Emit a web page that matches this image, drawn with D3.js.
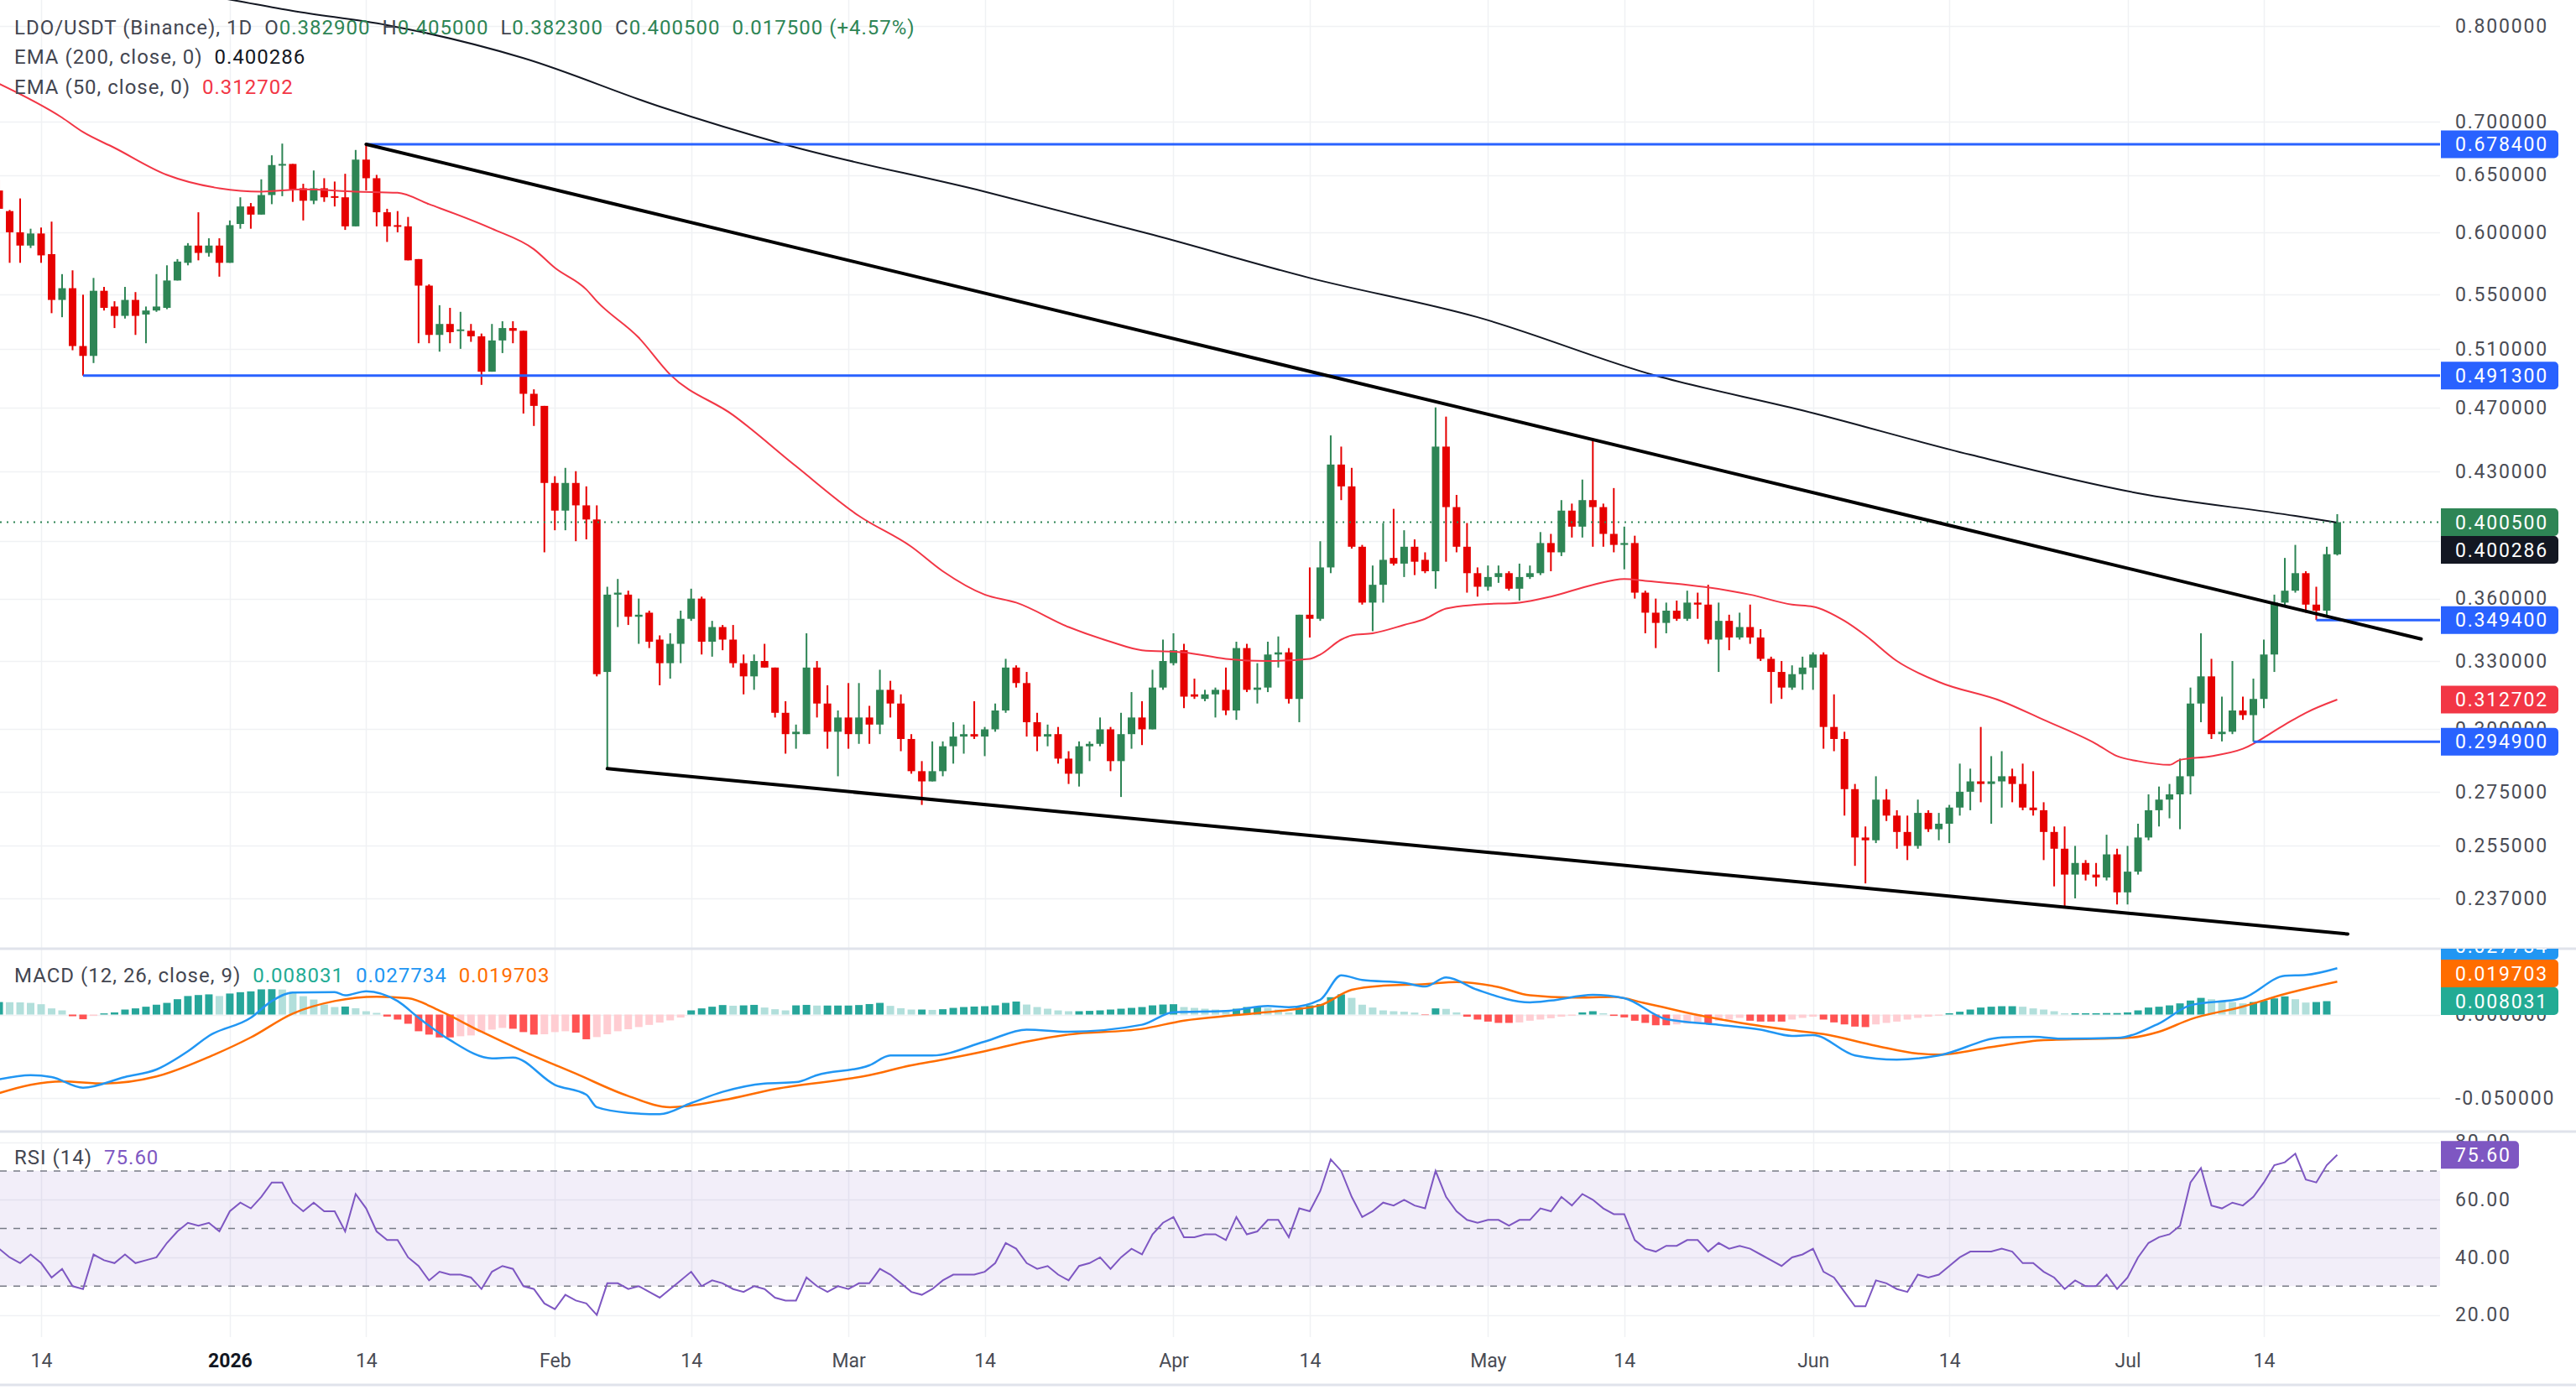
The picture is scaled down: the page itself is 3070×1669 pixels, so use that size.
<!DOCTYPE html>
<meta charset="utf-8">
<head>
  <title>LDO/USDT 1D</title>
</head>

<style>
body {
  margin: 0;
  background: #fff;
}
svg {
  display: block;
  font-family: Roboto, "Noto Sans", sans-serif;
}
</style>

<body>
  <svg width="3070" height="1669"></svg>

  <script src="https://cdnjs.cloudflare.com/ajax/libs/d3/7.8.5/d3.min.js"></script>

  <script>
// daily candles, first one on firstDay
var firstDay = "2025-12-10";
var opens = [0.636,0.618,0.600,0.589,0.599,0.582,0.546,0.555,0.512,0.505,0.553,0.541,0.534,0.546,0.535,0.538,0.540,0.561,0.575,0.589,0.583,0.589,
  0.575,0.607,0.622,0.615,0.632,0.659,0.660,0.638,0.627,0.638,0.631,0.630,0.605,0.664,0.647,0.617,0.606,0.605,0.578,0.557,0.520,0.528,0.523,0.523,0.519,0.494,0.516,0.525,0.523,0.479,0.471,
  0.423,0.407,0.423,0.410,0.402,0.325,0.362,0.362,0.351,0.353,0.340,0.329,0.338,0.350,0.360,0.339,0.346,0.340,0.329,0.323,0.330,0.327,0.307,0.298,0.298,0.327,0.311,0.299,
  0.305,0.298,0.305,0.302,0.317,0.311,0.296,0.283,0.279,0.283,0.293,0.297,0.298,0.297,0.300,0.308,0.327,0.320,0.303,0.297,0.298,0.288,0.282,0.293,0.294,0.300,0.287,0.298,0.305,0.300,0.318,
  0.329,0.335,0.315,0.313,0.315,0.317,0.308,0.336,0.317,0.318,0.333,0.334,0.313,0.352,0.350,0.376,0.434,0.421,0.387,0.358,0.367,0.381,0.378,0.387,0.380,0.374,0.445,0.409,0.387,0.373,
  0.366,0.371,0.373,0.365,0.371,0.373,0.389,0.384,0.407,0.398,0.413,0.409,0.394,0.388,0.389,0.363,0.353,0.348,0.354,0.350,0.358,0.357,0.340,0.349,0.341,0.346,0.341,0.331,0.325,0.318,0.324,
  0.327,0.333,0.301,0.296,0.276,0.258,0.257,0.272,0.266,0.260,0.255,0.267,0.261,0.263,0.269,0.275,0.279,0.278,0.279,0.281,0.278,0.269,0.268,0.260,0.254,0.245,0.249,0.245,0.244,0.252,
  0.239,0.246,0.258,0.268,0.272,0.274,0.281,0.311,0.323,0.298,0.299,0.308,0.306,0.313,0.333,0.358,0.364,0.373,0.357,0.354,0.3829];
var highs = [0.645,0.619,0.629,0.603,0.604,0.609,0.566,0.569,0.550,0.563,0.556,0.545,0.556,0.552,0.541,0.566,0.573,0.578,0.591,0.617,0.595,0.595,
  0.610,0.630,0.625,0.646,0.668,0.679,0.660,0.642,0.654,0.647,0.644,0.651,0.673,0.6784,0.650,0.620,0.618,0.613,0.578,0.558,0.542,0.540,0.537,0.528,0.521,0.528,0.530,0.530,0.523,0.482,0.471,
  0.427,0.432,0.430,0.421,0.410,0.366,0.370,0.364,0.360,0.354,0.342,0.343,0.354,0.365,0.361,0.349,0.347,0.347,0.333,0.333,0.338,0.327,0.312,0.302,0.343,0.330,0.319,0.308,
  0.320,0.320,0.310,0.326,0.321,0.315,0.298,0.287,0.295,0.295,0.303,0.302,0.312,0.301,0.311,0.331,0.328,0.325,0.307,0.302,0.301,0.291,0.295,0.295,0.305,0.301,0.307,0.316,0.312,0.326,0.340,
  0.343,0.338,0.322,0.317,0.318,0.327,0.339,0.338,0.329,0.339,0.3415,0.336,0.352,0.376,0.390,0.452,0.445,0.432,0.388,0.377,0.400,0.408,0.396,0.391,0.384,0.470,0.464,0.416,0.400,0.376,
  0.377,0.377,0.374,0.378,0.377,0.395,0.394,0.413,0.411,0.425,0.450,0.411,0.420,0.398,0.393,0.364,0.360,0.358,0.359,0.364,0.363,0.367,0.358,0.352,0.353,0.357,0.345,0.332,0.330,0.328,0.332,
  0.334,0.334,0.315,0.299,0.278,0.262,0.281,0.276,0.268,0.266,0.272,0.268,0.267,0.270,0.286,0.284,0.301,0.289,0.291,0.284,0.286,0.283,0.271,0.262,0.262,0.255,0.250,0.249,0.259,0.254,
  0.255,0.263,0.274,0.277,0.278,0.288,0.318,0.343,0.331,0.314,0.330,0.314,0.322,0.340,0.362,0.381,0.388,0.374,0.366,0.387,0.405];
var lows = [0.615,0.575,0.575,0.587,0.575,0.536,0.533,0.509,0.4913,0.500,0.538,0.525,0.532,0.520,0.514,0.537,0.539,0.561,0.573,0.577,0.580,0.564,
  0.575,0.603,0.603,0.615,0.624,0.631,0.626,0.610,0.624,0.626,0.622,0.602,0.605,0.636,0.605,0.592,0.600,0.577,0.514,0.514,0.508,0.514,0.510,0.515,0.485,0.494,0.507,0.514,0.466,0.458,0.384,
  0.396,0.396,0.390,0.391,0.323,0.284,0.346,0.347,0.338,0.336,0.319,0.322,0.329,0.349,0.333,0.332,0.335,0.327,0.315,0.317,0.327,0.305,0.290,0.292,0.298,0.305,0.292,0.281,
  0.292,0.294,0.294,0.298,0.305,0.291,0.282,0.270,0.279,0.281,0.286,0.290,0.296,0.289,0.299,0.307,0.318,0.297,0.291,0.293,0.286,0.278,0.277,0.287,0.293,0.283,0.273,0.292,0.2935,0.300,0.317,
  0.328,0.309,0.313,0.312,0.305,0.306,0.304,0.316,0.311,0.316,0.327,0.311,0.303,0.341,0.349,0.373,0.413,0.386,0.357,0.344,0.358,0.377,0.371,0.372,0.373,0.365,0.379,0.384,0.363,0.361,
  0.364,0.368,0.364,0.359,0.370,0.372,0.374,0.382,0.392,0.392,0.387,0.387,0.384,0.375,0.360,0.343,0.336,0.343,0.349,0.349,0.350,0.338,0.325,0.335,0.340,0.338,0.330,0.311,0.313,0.317,0.317,
  0.317,0.292,0.291,0.266,0.248,0.242,0.256,0.264,0.254,0.250,0.254,0.260,0.257,0.256,0.266,0.268,0.271,0.263,0.269,0.271,0.268,0.266,0.250,0.241,0.234,0.237,0.243,0.241,0.243,0.235,
  0.235,0.245,0.257,0.262,0.265,0.261,0.274,0.303,0.296,0.295,0.298,0.304,0.2949,0.309,0.325,0.356,0.363,0.353,0.3494,0.351,0.3823];
var closes = [0.620,0.600,0.589,0.599,0.581,0.546,0.555,0.512,0.505,0.553,0.540,0.534,0.546,0.534,0.538,0.541,0.561,0.576,0.589,0.583,0.589,0.575,
  0.606,0.622,0.615,0.632,0.659,0.660,0.637,0.627,0.638,0.630,0.630,0.605,0.664,0.647,0.617,0.605,0.605,0.577,0.557,0.520,0.528,0.522,0.524,0.519,0.494,0.516,0.525,0.523,0.479,0.471,0.423,
  0.407,0.423,0.410,0.402,0.324,0.362,0.363,0.351,0.352,0.339,0.329,0.338,0.350,0.360,0.339,0.346,0.340,0.329,0.323,0.330,0.327,0.307,0.298,0.299,0.327,0.311,0.299,0.305,
  0.298,0.305,0.302,0.317,0.311,0.296,0.283,0.279,0.283,0.293,0.297,0.298,0.297,0.300,0.308,0.327,0.320,0.303,0.297,0.298,0.288,0.282,0.293,0.294,0.300,0.287,0.298,0.305,0.300,0.318,0.330,
  0.335,0.314,0.314,0.315,0.317,0.308,0.336,0.317,0.318,0.333,0.334,0.313,0.352,0.350,0.376,0.434,0.421,0.387,0.358,0.367,0.380,0.378,0.387,0.379,0.374,0.445,0.409,0.387,0.373,0.366,
  0.371,0.373,0.365,0.371,0.373,0.389,0.384,0.407,0.398,0.413,0.409,0.394,0.388,0.389,0.363,0.353,0.348,0.354,0.350,0.358,0.357,0.340,0.349,0.341,0.346,0.341,0.331,0.325,0.318,0.324,0.327,
  0.333,0.301,0.296,0.276,0.258,0.257,0.272,0.266,0.260,0.255,0.267,0.261,0.263,0.269,0.275,0.279,0.278,0.279,0.281,0.278,0.269,0.268,0.260,0.254,0.245,0.249,0.245,0.244,0.252,0.239,
  0.246,0.258,0.268,0.272,0.274,0.281,0.311,0.323,0.298,0.299,0.308,0.306,0.313,0.333,0.358,0.364,0.373,0.357,0.354,0.383,0.4005];

// moving averages
var ema200 = [["2025-12-10",0.875],["2026-01-01",0.830],["2026-01-07",0.817],["2026-01-16",0.801],["2026-01-29",0.765],["2026-02-11",0.715],
  ["2026-02-23",0.678],["2026-03-14",0.635],["2026-03-30",0.598],["2026-04-14",0.563],["2026-04-30",0.533],["2026-05-17",0.4913],["2026-05-31",0.468],
  ["2026-06-16",0.440],["2026-07-02",0.417],["2026-07-17",0.404],["2026-07-21",0.400286]];
var ema50 = [["2025-12-10",0.738],["2025-12-16",0.704],["2025-12-18",0.690],["2025-12-21",0.675],["2025-12-26",0.650],["2025-12-31",0.638],["2026-01-04",0.635],
  ["2026-01-08",0.637],["2026-01-13",0.635],["2026-01-17",0.634],["2026-01-20",0.624],["2026-01-26",0.603],["2026-01-30",0.586],["2026-02-01",0.571],["2026-02-04",0.554],
  ["2026-02-05",0.545],["2026-02-09",0.518],["2026-02-12",0.492],["2026-02-18",0.465],["2026-02-24",0.433],["2026-03-02",0.404],["2026-03-07",0.387],["2026-03-10",0.374],
  ["2026-03-14",0.362],["2026-03-17",0.358],["2026-03-22",0.346],["2026-03-26",0.339],["2026-03-29",0.335],["2026-04-02",0.334],["2026-04-06",0.331],["2026-04-10",0.330],
  ["2026-04-14",0.331],["2026-04-15",0.333],["2026-04-17",0.340],["2026-04-18",0.342],["2026-04-20",0.343],["2026-04-23",0.347],["2026-04-25",0.350],["2026-04-27",0.355],
  ["2026-04-30",0.357],["2026-05-04",0.358],["2026-05-07",0.361],["2026-05-11",0.367],["2026-05-14",0.370],["2026-05-16",0.369],["2026-05-20",0.367],["2026-05-24",0.364],
  ["2026-05-26",0.362],["2026-05-30",0.357],["2026-06-01",0.356],["2026-06-04",0.349],["2026-06-06",0.342],["2026-06-09",0.330],["2026-06-13",0.3205],["2026-06-19",0.312],
  ["2026-06-23",0.304],["2026-06-28",0.294],["2026-06-30",0.289],["2026-07-02",0.287],["2026-07-05",0.2855],["2026-07-06",0.2875],["2026-07-09",0.289],["2026-07-12",0.292],
  ["2026-07-16",0.302],["2026-07-18",0.307],["2026-07-21",0.312702]];

// MACD (12, 26, 9)
var macdLine = [["2025-12-10",-0.0388],["2025-12-13",-0.0363],["2025-12-15",-0.0374],["2025-12-18",-0.0438],["2025-12-22",-0.0374],["2025-12-25",-0.0329],
  ["2025-12-28",-0.0220],["2025-12-30",-0.0128],["2026-01-03",-0.0019],["2026-01-05",0.0081],["2026-01-07",0.0132],["2026-01-11",0.0135],["2026-01-12",0.0115],
  ["2026-01-14",0.0140],["2026-01-17",0.0081],["2026-01-19",-0.0019],["2026-01-22",-0.0153],["2026-01-26",-0.0262],["2026-01-28",-0.0257],["2026-02-01",-0.0421],
  ["2026-02-04",-0.0480],["2026-02-05",-0.0555],["2026-02-08",-0.0589],["2026-02-11",-0.0597],["2026-02-14",-0.0530],["2026-02-17",-0.0463],["2026-02-21",-0.0413],
  ["2026-02-24",-0.0405],["2026-02-26",-0.0363],["2026-03-03",-0.0304],["2026-03-05",-0.0245],["2026-03-09",-0.0245],["2026-03-14",-0.0162],["2026-03-18",-0.0090],
  ["2026-03-22",-0.0103],["2026-03-29",-0.0061],["2026-04-01",0.0014],["2026-04-06",0.0021],["2026-04-10",0.0051],["2026-04-12",0.0044],["2026-04-15",0.0089],
  ["2026-04-17",0.0235],["2026-04-19",0.0207],["2026-04-23",0.0190],["2026-04-25",0.0168],["2026-04-27",0.0222],["2026-04-30",0.0148],["2026-05-05",0.0073],
  ["2026-05-07",0.0084],["2026-05-11",0.0118],["2026-05-14",0.0098],["2026-05-18",-0.0028],["2026-05-23",-0.0061],["2026-05-27",-0.0090],["2026-05-30",-0.0128],
  ["2026-06-01",-0.0123],["2026-06-05",-0.0245],["2026-06-09",-0.0270],["2026-06-13",-0.0245],["2026-06-19",-0.0137],["2026-06-22",-0.0133],["2026-06-25",-0.0145],
  ["2026-06-30",-0.0140],["2026-07-04",-0.0053],["2026-07-07",0.0056],["2026-07-12",0.0098],["2026-07-16",0.0232],["2026-07-18",0.0237],["2026-07-21",0.027734]];
var signalLine = [["2025-12-10",-0.0471],["2025-12-13",-0.0421],["2025-12-16",-0.0401],["2025-12-20",-0.0413],["2025-12-25",-0.0371],["2025-12-30",-0.0254],
  ["2026-01-03",-0.0137],["2026-01-07",0.0006],["2026-01-11",0.0081],["2026-01-15",0.0107],["2026-01-18",0.0098],["2026-01-21",0.0023],["2026-01-25",-0.0103],
  ["2026-01-29",-0.0220],["2026-02-03",-0.0354],["2026-02-08",-0.0488],["2026-02-12",-0.0555],["2026-02-17",-0.0513],["2026-02-22",-0.0446],["2026-03-03",-0.0363],
  ["2026-03-07",-0.0304],["2026-03-10",-0.0270],["2026-03-14",-0.0220],["2026-03-18",-0.0162],["2026-03-22",-0.0120],["2026-03-29",-0.0086],["2026-04-02",-0.0036],
  ["2026-04-07",-0.0003],["2026-04-12",0.0028],["2026-04-15",0.0056],["2026-04-18",0.0148],["2026-04-21",0.0173],["2026-04-25",0.0182],["2026-04-28",0.0195],
  ["2026-05-02",0.0165],["2026-05-05",0.0115],["2026-05-09",0.0102],["2026-05-13",0.0105],["2026-05-16",0.0068],["2026-05-21",-0.0003],["2026-05-25",-0.0049],
  ["2026-05-30",-0.0094],["2026-06-02",-0.0117],["2026-06-07",-0.0187],["2026-06-11",-0.0234],["2026-06-13",-0.0240],["2026-06-18",-0.0195],["2026-06-23",-0.0153],
  ["2026-07-01",-0.0140],["2026-07-04",-0.0103],["2026-07-07",-0.0028],["2026-07-12",0.0048],["2026-07-16",0.0123],["2026-07-21",0.019703]];
var macdHist = [0.0075,0.0074,0.0073,0.0070,0.0062,0.0037,0.0025,-0.0010,-0.0028,-0.0008,
  0.0007,0.0013,0.0030,0.0037,0.0047,0.0059,0.0070,0.0092,0.0111,0.0117,0.0121,0.0111,0.0126,0.0134,0.0139,0.0151,0.0152,0.0150,
  0.0128,0.0110,0.0090,0.0060,0.0045,0.0048,0.0038,0.0020,0.0010,
  -0.0012,-0.0030,-0.0055,-0.0100,-0.0120,-0.0137,-0.0137,-0.0130,-0.0125,-0.0105,-0.0090,-0.0080,-0.0085,-0.0105,-0.0120,-0.0118,
  -0.0105,-0.0100,-0.0108,-0.0148,-0.0135,-0.0118,-0.0100,-0.0088,-0.0075,-0.0062,-0.0048,-0.0035,-0.0018,
  0.0025,0.0037,0.0047,0.0057,0.0053,0.0055,0.0058,0.0042,0.0032,0.0025,
  0.0055,0.0058,0.0054,0.0054,0.0054,0.0054,0.0057,0.0063,0.0070,0.0052,0.0038,0.0030,0.0030,0.0028,0.0032,
  0.0040,0.0045,0.0048,0.0050,0.0055,0.0070,0.0078,0.0060,0.0045,
  0.0035,0.0025,0.0020,0.0020,0.0022,0.0025,0.0030,0.0035,0.0040,0.0045,0.0055,
  0.0060,0.0062,0.0045,0.0040,0.0035,0.0030,0.0025,0.0035,0.0045,0.0048,0.0040,0.0030,
  0.0013,0.0042,0.0055,0.0063,0.0104,0.0121,0.0100,0.0059,0.0042,0.0025,0.0020,0.0017,0.0012,-0.0003,0.0037,0.0034,0.0013,
  -0.0013,-0.0030,-0.0042,-0.0050,-0.0050,-0.0047,-0.0037,-0.0030,-0.0022,-0.0013,-0.0007,0.0013,0.0020,0.0008,
  -0.0008,-0.0017,-0.0037,-0.0050,-0.0064,-0.0064,-0.0059,-0.0054,-0.0047,-0.0054,-0.0037,-0.0030,-0.0020,-0.0037,-0.0042,-0.0042,-0.0042,-0.0030,-0.0020,-0.0013,
  -0.0030,-0.0047,-0.0059,-0.0072,-0.0075,-0.0059,-0.0050,-0.0042,-0.0030,-0.0020,-0.0013,-0.0007,
  0.0008,0.0017,0.0030,0.0042,0.0047,0.0050,0.0050,0.0047,0.0037,0.0030,0.0020,0.0008,0.0008,0.0008,0.0008,0.0009,0.0009,0.0013,0.0025,0.0042,0.0047,0.0055,0.0067,0.0084,0.0100,
  0.0092,0.0084,0.0075,0.0067,0.0075,0.0084,0.0097,0.0109,0.0092,0.0072,0.0075,0.008031];

// RSI (14), one value per candle
var rsi = [43,40,38,41,38,33,36,30,29,41,39,38,41,38,39,40,45,49,52,51,52,49,
  56,59,57,61,66,66,59,56,59,56,56,49,62,57,49,46,46,40,37,32,35,34,34,33,29,35,37,36,30,29,24,
  22,27,25,24,20,31,31,29,30,28,26,29,32,35,30,32,31,29,28,30,29,26,25,25,33,30,28,30,
  29,31,31,36,34,31,28,27,29,32,34,34,34,35,38,45,43,38,36,37,34,32,37,38,40,36,40,43,41,48,52,
  54,47,47,48,48,46,54,48,49,53,53,47,57,56,63,74,70,61,54,56,59,58,60,58,57,70,61,56,53,52,
  53,53,51,53,53,57,56,61,58,62,60,57,55,55,46,43,42,44,44,46,46,42,45,43,44,43,41,39,37,40,41,
  43,35,33,28,23,23,32,31,29,28,34,33,34,37,40,42,42,42,43,42,38,38,35,33,29,32,30,30,34,29,
  33,40,45,47,48,51,66,71,58,57,59,58,61,66,72,73,76,67,66,72,75.6];

// drawings
var levels = [{start:"2026-01-14", price:0.6784}, {start:"2025-12-18", price:0.4913}, {start:"2026-07-19", price:0.3494}, {start:"2026-07-13", price:0.2949}];
var trendLines = [[["2026-01-14",0.6784],["2026-07-29",0.3403]], [["2026-02-06",0.284],["2026-07-22",0.2255]]];

// axes
var priceTicks = [0.8, 0.7, 0.65, 0.6, 0.55, 0.51, 0.47, 0.43, 0.39, 0.36, 0.33, 0.30, 0.275, 0.255, 0.237];
var macdTicks = [0, -0.05];
var rsiTicks = [20, 40, 60, 80];
var xTickDates = ["2025-12-14","2026-01-01","2026-01-14","2026-02-01","2026-02-14","2026-03-01","2026-03-14","2026-04-01","2026-04-14","2026-05-01","2026-05-14","2026-06-01","2026-06-14","2026-07-01","2026-07-14"];
var xTickLabels = ["14","2026","14","Feb","14","Mar","14","Apr","14","May","14","Jun","14","Jul","14"];


var parseDay = d3.utcParse("%Y-%m-%d");
var days = opens.map(function(d, i) { return d3.utcDay.offset(parseDay(firstDay), i); });

var plotRight = 2908;
var GREEN = '#2e8555', RED = '#e60000', FONT = 23;

var x = d3.scaleUtc()
  .domain([parseDay("2025-12-14"), parseDay("2026-07-14")])
  .range([49, 2698]);
var y = d3.scaleLog().domain([0.237, 0.8]).range([1071, 31]);
var yMacd = d3.scaleLinear().domain([-0.05, 0]).range([1309, 1209.5]);
var yRsi = d3.scaleLinear().domain([20, 80]).range([1567.6, 1361.6]);

var panes = [{id: 'main', top: 0, bottom: 1131}, {id: 'macd', top: 1131, bottom: 1349}, {id: 'rsi', top: 1349, bottom: 1594}];

var svg = d3.select('svg');
svg.append('rect').attr('width', 3070).attr('height', 1669).attr('fill', '#fff');

var defs = svg.append('defs');
panes.forEach(function(p) {
  defs.append('clipPath').attr('id', 'clip-' + p.id)
    .append('rect').attr('x', 0).attr('y', p.top).attr('width', plotRight).attr('height', p.bottom - p.top);
  defs.append('clipPath').attr('id', 'clipaxis-' + p.id)
    .append('rect').attr('x', 0).attr('y', p.top).attr('width', 3070).attr('height', p.bottom - p.top);
});

// grid
var grid = svg.append('g').attr('stroke', '#f0f1f4').attr('stroke-width', 1.5);
xTickDates.forEach(function(d) {
  var xx = Math.round(x(parseDay(d))) + 0.5;
  grid.append('line').attr('x1', xx).attr('x2', xx).attr('y1', 0).attr('y2', 1594);
});
function hgrid(scale, ticks) {
  ticks.forEach(function(t) {
    var yy = Math.round(scale(t)) + 0.5;
    grid.append('line').attr('x1', 0).attr('x2', plotRight).attr('y1', yy).attr('y2', yy);
  });
}
hgrid(y, priceTicks);
hgrid(yMacd, macdTicks);
hgrid(yRsi, rsiTicks);

// ---- main pane
var main = svg.append('g').attr('clip-path', 'url(#clip-main)');

var candles = main.selectAll('g.candle')
  .data(days)
  .enter().append('g')
  .attr('fill', function(d, i) { return closes[i] >= opens[i] ? GREEN : RED; });
candles.append('rect')
  .attr('x', function(d) { return x(d) - 1; })
  .attr('width', 2)
  .attr('y', function(d, i) { return y(highs[i]); })
  .attr('height', function(d, i) { return Math.max(1, y(lows[i]) - y(highs[i])); });
candles.append('rect')
  .attr('x', function(d) { return x(d) - 4.5; })
  .attr('width', 9)
  .attr('y', function(d, i) { return y(Math.max(opens[i], closes[i])); })
  .attr('height', function(d, i) { return Math.max(2, Math.abs(y(opens[i]) - y(closes[i]))); });

var lineOf = function(sy) {
  return d3.line()
    .x(function(d) { return x(parseDay(d[0])); })
    .y(function(d) { return sy(d[1]); })
    .curve(d3.curveMonotoneX);
};
main.append('path').attr('d', lineOf(y)(ema50)).attr('fill', 'none').attr('stroke', '#f23645').attr('stroke-width', 2);
main.append('path').attr('d', lineOf(y)(ema200)).attr('fill', 'none').attr('stroke', '#131722').attr('stroke-width', 2);

// last close
main.append('line')
  .attr('x1', 0).attr('x2', plotRight)
  .attr('y1', y(closes[closes.length - 1])).attr('y2', y(closes[closes.length - 1]))
  .attr('stroke', GREEN).attr('stroke-width', 2).attr('stroke-dasharray', '2,6');

levels.forEach(function(l) {
  main.append('line')
    .attr('x1', x(parseDay(l.start))).attr('x2', plotRight)
    .attr('y1', y(l.price)).attr('y2', y(l.price))
    .attr('stroke', '#2962ff').attr('stroke-width', 3);
});
trendLines.forEach(function(t) {
  main.append('line')
    .attr('x1', x(parseDay(t[0][0]))).attr('y1', y(t[0][1]))
    .attr('x2', x(parseDay(t[1][0]))).attr('y2', y(t[1][1]))
    .attr('stroke', '#000').attr('stroke-width', 4).attr('stroke-linecap', 'round');
});

// ---- MACD pane
var macdG = svg.append('g').attr('clip-path', 'url(#clip-macd)');
macdG.selectAll('rect')
  .data(macdHist)
  .enter().append('rect')
  .attr('x', function(d, i) { return x(days[i]) - 4.5; })
  .attr('width', 9)
  .attr('y', function(d) { return Math.min(yMacd(d), yMacd(0)); })
  .attr('height', function(d) { return Math.abs(yMacd(d) - yMacd(0)); })
  .attr('fill', function(d, i) {
    var prev = i > 0 ? macdHist[i - 1] : d;
    if (d >= 0) return d >= prev ? '#26a69a' : '#b2dfdb';
    return d <= prev ? '#ff5252' : '#ffcdd2';
  });
macdG.append('path').attr('d', lineOf(yMacd)(signalLine)).attr('fill', 'none').attr('stroke', '#ff6d00').attr('stroke-width', 2.5);
macdG.append('path').attr('d', lineOf(yMacd)(macdLine)).attr('fill', 'none').attr('stroke', '#2196f3').attr('stroke-width', 2.5);

// ---- RSI pane
var rsiG = svg.append('g').attr('clip-path', 'url(#clip-rsi)');
rsiG.append('rect')
  .attr('x', 0).attr('width', plotRight)
  .attr('y', yRsi(70)).attr('height', yRsi(30) - yRsi(70))
  .attr('fill', 'rgba(126,87,194,0.1)');
[70, 50, 30].forEach(function(v) {
  rsiG.append('line').attr('x1', 0).attr('x2', plotRight)
    .attr('y1', yRsi(v)).attr('y2', yRsi(v))
    .attr('stroke', '#787b86').attr('stroke-width', 1.5).attr('stroke-dasharray', '8,8');
});
rsiG.append('path')
  .attr('d', d3.line().x(function(d, i) { return x(days[i]); }).y(function(d) { return yRsi(d); })(rsi))
  .attr('fill', 'none').attr('stroke', '#7e57c2').attr('stroke-width', 2);

// pane separators
[1131, 1349].forEach(function(v) {
  svg.append('line').attr('x1', 0).attr('x2', 3070).attr('y1', v).attr('y2', v).attr('stroke', '#e0e3eb').attr('stroke-width', 3);
});
svg.append('line').attr('x1', 0).attr('x2', 3070).attr('y1', 1651).attr('y2', 1651).attr('stroke', '#e0e3eb').attr('stroke-width', 3);

// ---- axes
function rightAxis(scale, ticks, fmt) {
  var g = svg.append('g')
    .attr('transform', 'translate(2926,0)')
    .call(d3.axisRight(scale).tickValues(ticks).tickFormat(fmt).tickSize(0).tickPadding(0));
  g.select('.domain').remove();
  g.selectAll('text')
    .attr('font-size', FONT).attr('letter-spacing', 1.8)
    .attr('font-family', 'Roboto, sans-serif').attr('fill', '#4a4c55');
  return g;
}
rightAxis(y, priceTicks, d3.format('.6f'));
rightAxis(yMacd, macdTicks, function(d) { return d3.format('.6f')(d).replace('−', '-'); });
rightAxis(yRsi, rsiTicks, d3.format('.2f'));

var xAxis = svg.append('g')
  .attr('transform', 'translate(0,1614)')
  .call(d3.axisBottom(x)
    .tickValues(xTickDates.map(parseDay))
    .tickFormat(function(d, i) { return xTickLabels[i]; })
    .tickSize(0).tickPadding(0));
xAxis.select('.domain').remove();
xAxis.selectAll('text')
  .attr('font-size', FONT).attr('font-family', 'Roboto, sans-serif')
  .attr('font-weight', function(d, i) { return xTickLabels[i] === '2026' ? 700 : 400; })
  .attr('fill', function(d, i) { return xTickLabels[i] === '2026' ? '#131722' : '#4a4c55'; });

// ---- price labels on the scale
function tag(yc, text, bg, pane, w) {
  var g = svg.append('g').attr('clip-path', 'url(#clipaxis-' + pane + ')');
  var ww = w || 140, h = 33;
  g.append('path')
    .attr('d', 'M2909,' + (yc - h / 2) + 'h' + (ww - 5) + 'a5,5 0 0 1 5,5v' + (h - 10) + 'a5,5 0 0 1 -5,5h' + (-(ww - 5)) + 'z')
    .attr('fill', bg);
  g.append('text')
    .attr('x', 2926).attr('y', yc).attr('dy', '0.35em')
    .attr('font-size', FONT).attr('letter-spacing', 1.8)
    .attr('fill', '#fff').text(text);
}
var fmt6 = d3.format('.6f');
var n = closes.length;
var lastClose = closes[n - 1];
var lastEma200 = ema200[ema200.length - 1][1], lastEma50 = ema50[ema50.length - 1][1];

// main pane: overlapping tags are pushed downwards
var mainTags = [
  {v: levels[0].price, bg: '#2962ff'},
  {v: levels[1].price, bg: '#2962ff'},
  {v: lastClose, bg: GREEN},
  {v: lastEma200, bg: '#131722'},
  {v: levels[2].price, bg: '#2962ff'},
  {v: lastEma50, bg: '#f23645'},
  {v: levels[3].price, bg: '#2962ff'}
];
var prevBottom = -1e9;
mainTags.forEach(function(t) {
  var yc = Math.max(y(t.v), prevBottom + 16.5);
  prevBottom = yc + 16.5;
  tag(yc, fmt6(t.v), t.bg, 'main');
});

// macd pane: stacked upwards from the histogram value
var lastHist = macdHist[macdHist.length - 1];
var lastMacd = macdLine[macdLine.length - 1][1], lastSignal = signalLine[signalLine.length - 1][1];
var macdTags = [{v: lastHist, bg: '#22ab94'}, {v: lastSignal, bg: '#ff6d00'}, {v: lastMacd, bg: '#2196f3'}];
var prevTop = 1e9;
macdTags.forEach(function(t) {
  var yc = Math.min(yMacd(t.v), prevTop - 16.5);
  prevTop = yc - 16.5;
  tag(yc, fmt6(t.v), t.bg, 'macd');
});

var lastRsi = rsi[rsi.length - 1];
tag(yRsi(lastRsi), d3.format('.2f')(lastRsi), '#7e57c2', 'rsi', 93);

// ---- legends
function legend(yb, parts) {
  var t = svg.append('text').attr('x', 17).attr('y', yb).attr('font-size', 24).attr('letter-spacing', 1);
  parts.forEach(function(p) {
    t.append('tspan').attr('dx', p[2] || 0).attr('fill', p[1]).text(p[0]);
  });
}
var GRAY = '#434651';
var chg = lastClose - closes[n - 2];
legend(41, [['LDO/USDT (Binance), 1D', GRAY], ['O', GRAY, 14], [fmt6(opens[n - 1]), GREEN],
  ['H', GRAY, 14], [fmt6(highs[n - 1]), GREEN], ['L', GRAY, 14], [fmt6(lows[n - 1]), GREEN],
  ['C', GRAY, 14], [fmt6(lastClose), GREEN], [fmt6(chg) + ' (+' + d3.format('.2f')(chg / closes[n - 2] * 100) + '%)', GREEN, 14]]);
legend(76, [['EMA (200, close, 0)', GRAY], [fmt6(lastEma200), '#131722', 14]]);
legend(112, [['EMA (50, close, 0)', GRAY], [fmt6(lastEma50), '#f23645', 14]]);
legend(1171, [['MACD (12, 26, close, 9)', GRAY], [fmt6(lastHist), '#22ab94', 14], [fmt6(lastMacd), '#2196f3', 14], [fmt6(lastSignal), '#ff6d00', 14]]);
legend(1388, [['RSI (14)', GRAY], [d3.format('.2f')(lastRsi), '#7e57c2', 14]]);
  </script>
</body>
</html>
